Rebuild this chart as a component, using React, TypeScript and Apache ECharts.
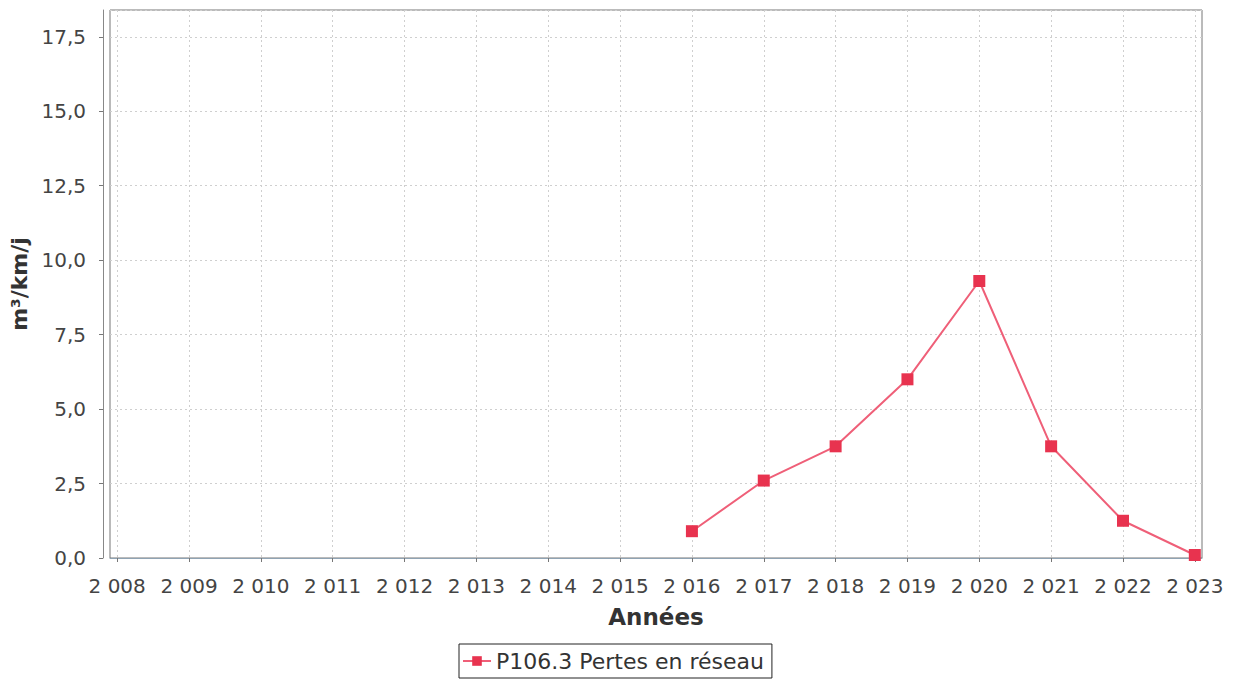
import React, { useEffect, useRef } from "react";
import * as echarts from "echarts";

const years = [2008, 2009, 2010, 2011, 2012, 2013, 2014, 2015, 2016, 2017, 2018, 2019, 2020, 2021, 2022, 2023];
const seriesYears = [2016, 2017, 2018, 2019, 2020, 2021, 2022, 2023];
const seriesValues = [0.9, 2.6, 3.75, 6.0, 9.3, 3.75, 1.25, 0.1];
const seriesName = "P106.3 Pertes en réseau";
const xName = "Années";
const yName = "m³/km/j";

const FONT = "DejaVu Sans";

export default function App() {
  const ref = useRef<HTMLDivElement>(null);
  useEffect(() => {
    if (!ref.current) return;
    const chart = echarts.init(ref.current, null, { renderer: "svg" });
    const fmtYear = (v: number) => {
      const n = Math.round(v);
      return `${Math.floor(n / 1000)} ${String(n % 1000).padStart(3, "0")}`;
    };
    chart.setOption({
      animation: false,
      backgroundColor: "#ffffff",
      textStyle: { fontFamily: FONT },
      grid: {
        left: 110,
        right: 34,
        top: 10,
        bottom: 123,
        show: true,
        borderColor: "#777777",
        borderWidth: 1,
        backgroundColor: "#ffffff",
        containLabel: false,
      },
      legend: {
        left: 459,
        top: 644,
        orient: "horizontal",
        borderColor: "#222222",
        borderWidth: 1,
        padding: [6, 8, 6, 3],
        itemWidth: 28,
        itemHeight: 12,
        itemGap: 4,
        textStyle: { fontSize: 22, color: "#333333", fontFamily: FONT },
        data: [seriesName],
      },
      xAxis: {
        type: "value",
        min: 2007.9,
        max: 2023.1,
        offset: 6,
        name: xName,
        nameLocation: "middle",
        nameGap: 41,
        nameTextStyle: { fontSize: 23, fontWeight: "bold", color: "#333333", fontFamily: FONT },
        axisLine: { show: true, lineStyle: { color: "#8fa3b3", width: 1 } },
        axisTick: { show: true, length: 4, customValues: years, lineStyle: { color: "#777777" } },
        axisLabel: {
          customValues: years,
          formatter: (v: number) => fmtYear(v),
          fontSize: 20,
          color: "#444444",
          margin: 12,
          fontFamily: FONT,
        },
        splitLine: { show: true, lineStyle: { color: "#cfcfcf", type: [2, 3], width: 1 } },
      },
      yAxis: {
        type: "value",
        min: 0,
        max: 18.4,
        interval: 2.5,
        offset: 7,
        name: yName,
        nameLocation: "middle",
        nameGap: 70,
        nameRotate: 90,
        nameTextStyle: { fontSize: 22, fontWeight: "bold", color: "#333333", fontFamily: FONT },
        axisLine: { show: true, lineStyle: { color: "#888888", width: 1 } },
        axisTick: { show: true, length: 4, lineStyle: { color: "#777777" } },
        axisLabel: {
          formatter: (v: number) => v.toFixed(1).replace(".", ","),
          showMaxLabel: false,
          fontSize: 20,
          color: "#444444",
          margin: 17,
          fontFamily: FONT,
        },
        splitLine: { show: true, lineStyle: { color: "#cfcfcf", type: [2, 3], width: 1 } },
      },
      series: [
        {
          name: seriesName,
          type: "line",
          data: seriesYears.map((y, i) => [y, seriesValues[i]]),
          symbol: "rect",
          symbolSize: 12,
          lineStyle: { color: "#ef5f78", width: 2 },
          itemStyle: { color: "#e8334f" },
        },
      ],
    });
    return () => chart.dispose();
  }, []);
  return <div ref={ref} style={{ position: "fixed", left: 0, top: 0, width: 1236, height: 681 }} />;
}
